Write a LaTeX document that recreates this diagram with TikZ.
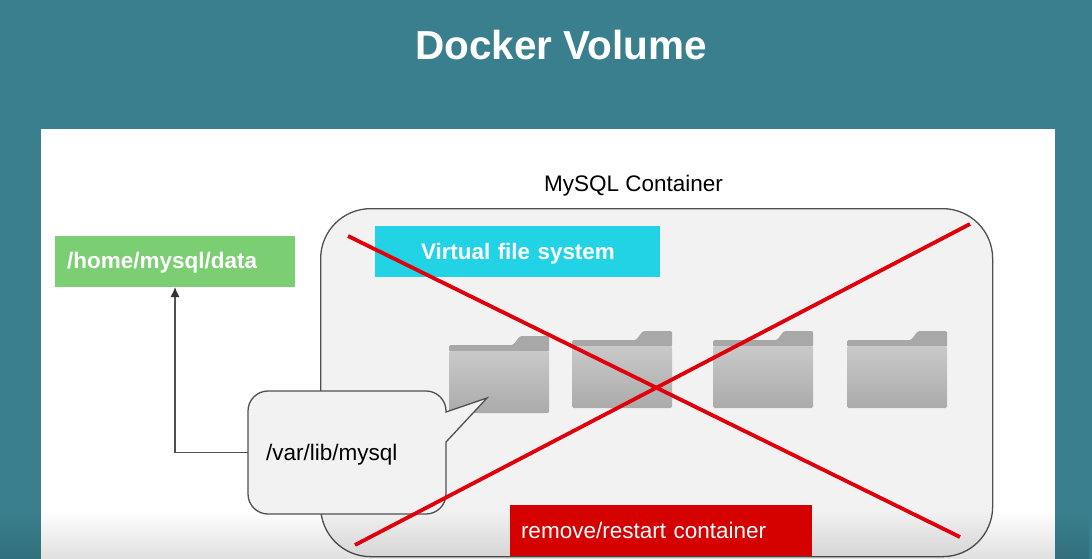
\documentclass[tikz,border=0pt]{standalone}
\usepackage{fontspec}
\setmainfont{Liberation Sans}
\usetikzlibrary{fadings,arrows.meta}
\definecolor{teal1}{HTML}{3A7F8E}
\definecolor{green1}{HTML}{7BCE72}
\definecolor{cyan1}{HTML}{22D3E6}
\definecolor{red1}{HTML}{D50000}
\definecolor{redline}{HTML}{E0000C}
\definecolor{line1}{HTML}{505050}
\definecolor{panel1}{HTML}{F2F2F2}
\definecolor{foldtop}{HTML}{A8A8A8}
\definecolor{foldlo}{HTML}{ABABAB}
\definecolor{foldhi}{HTML}{C9C9C9}
\tikzset{
  x=1pt,y=-1pt,
  labelbox/.style={anchor=north west,inner ysep=0pt,outer sep=0pt,align=left,text=white},
  crossline/.style={draw=redline,line width=3.8pt},
  outline/.style={draw=line1,line width=1.3pt,fill=panel1},
  connector/.style={draw=line1,line width=1.3pt,-{Latex[length=10pt,width=9pt,color=black!80]}},
  foldertab/.pic={
    \fill[foldtop,rounded corners=1.5pt] (0,9) -- (64,9) -- (71,0) -- (100,0) -- (100,16) -- (0,16) -- cycle;
    \shade[top color=foldhi,bottom color=foldlo,rounded corners=1.5pt] (0,15) -- (100,15) -- (100,77) -- (0,77) -- cycle;
  }
}
\begin{document}
\begin{tikzpicture}
\useasboundingbox (0,0) rectangle (1092,559);
\fill[teal1] (0,0) rectangle (1092,559);
\fill[white] (41,129) rectangle (1055,559);
\node[anchor=base,font=\bfseries\fontsize{40.5}{40}\selectfont,text=white,inner sep=0pt] (title) at (561,60) {Docker Volume};
\node[anchor=base,font=\fontsize{22.5}{24}\selectfont,inner sep=0pt] (clabel) at (633.5,191) {MySQL Container};
\node[draw=line1,line width=1.3pt,fill=panel1,rounded corners=50pt,anchor=north west,minimum width=672pt,minimum height=348pt,inner sep=0pt] (container) at (320,208) {};
\fill[black,opacity=0.12,path fading=north] (0,510) rectangle (1092,559);
\node[labelbox,fill=green1,minimum width=240pt,minimum height=51pt,text width=216pt,inner xsep=12pt,text height=19pt,text depth=5pt,font=\bfseries\fontsize{22.5}{24}\selectfont] (home) at (55,236) {\mbox{/home/mysql/data}};
\node[labelbox,fill=cyan1,minimum width=285pt,minimum height=51pt,text width=193pt,inner xsep=46pt,text height=20pt,text depth=5pt,font=\bfseries\fontsize{22.4}{24}\selectfont] (vfs) at (375,226) {\mbox{Virtual file system}};
\node[labelbox,fill=red1,minimum width=302pt,minimum height=51pt,text width=280pt,inner xsep=11pt,font=\fontsize{22.5}{24}\selectfont] (restart) at (510,505) {\mbox{remove/restart container}};
\pic at (449,336) {foldertab};
\pic at (572,331) {foldertab};
\pic at (713,331) {foldertab};
\pic at (847,331) {foldertab};
\draw[outline] (268,391) -- (426,391) arc[start angle=-90,end angle=0,radius=20] -- (446,412) -- (487,398) -- (446,442) -- (446,494) arc[start angle=0,end angle=90,radius=20] -- (268,514) arc[start angle=90,end angle=180,radius=20] -- (248,411) arc[start angle=180,end angle=270,radius=20] -- cycle;
\node[minimum width=198pt,minimum height=123pt,inner sep=0pt,anchor=north west,text width=180pt,align=left,inner xsep=18pt,text height=20pt,text depth=5pt,font=\fontsize{22.5}{24}\selectfont] (varlib) at (248,391) {\mbox{/var/lib/mysql}};
\draw[connector] (varlib.west) -| (home.south);
\coordinate (a1) at (348,236);
\coordinate (a2) at (960,537);
\coordinate (b1) at (355,545);
\coordinate (b2) at (970,224);
\draw[crossline] (a1) -- (a2);
\draw[crossline] (b1) -- (b2);
\end{tikzpicture}
\end{document}
